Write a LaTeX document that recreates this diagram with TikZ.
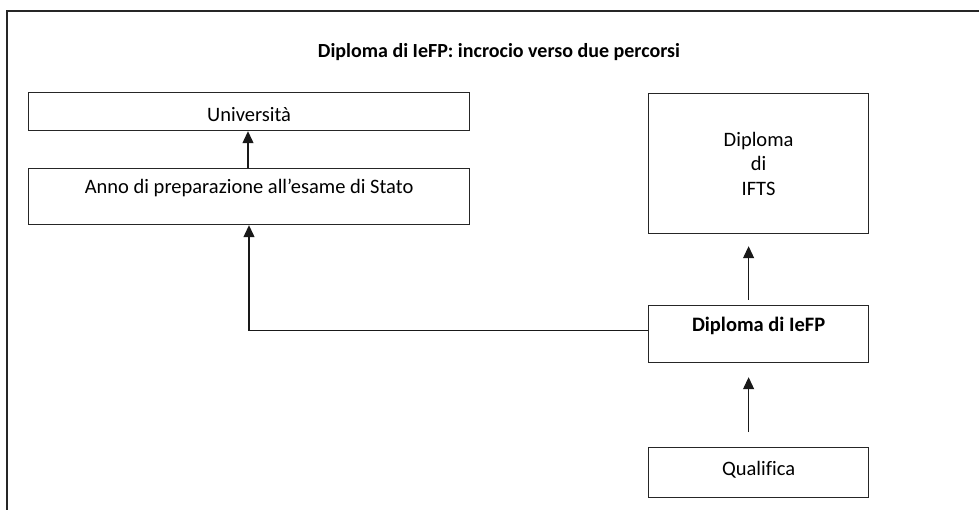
\documentclass[tikz,border=0pt]{standalone}
\usepackage{fontspec}
\setmainfont{Carlito}[Ligatures=NoCommon]
\usetikzlibrary{arrows.meta,calc}
\begin{document}
\begin{tikzpicture}[x=1pt,y=-1pt,
  line width=1.2pt,
  frame/.style={draw=black!85},
  box/.style={draw=black!85, inner sep=0pt, anchor=north west},
  txt/.style={font=\fontsize{20.5}{24}\selectfont, inner sep=0pt},
  arr/.style={draw=black!90, -{Triangle[length=12pt,width=11pt]}}]
  % canvas
  \useasboundingbox[fill=white] (0,0) rectangle (979,510);
  % open frame: top and left edges only
  \coordinate (fr) at (7,11);
  \coordinate (frR) at (979,11);
  \coordinate (frB) at (7,510);
  \draw[frame] (frR) -- (fr) -- (frB);
  % title
  \node[txt, font=\fontsize{20}{24}\selectfont\bfseries] (title) at (499,52) {Diploma di IeFP: incrocio verso due percorsi};
  % left column
  \node[box, minimum width=441pt, minimum height=38pt] (uni) at (28,92) {};
  \node[txt] (unit) at ($(uni.center)+(0,3)$) {Università};
  \node[box, minimum width=441pt, minimum height=56pt] (anno) at (28,168) {};
  \node[txt] (annot) at ($(anno.north)+(0,20)$) {Anno di preparazione all’esame di Stato};
  % right column
  \node[box, minimum width=220pt, minimum height=140pt] (ifts) at (648,93) {};
  \node[txt, align=center, font=\fontsize{20.5}{24.5}\selectfont] (iftst) at ($(ifts.center)+(0,0)$) {Diploma\\di\\IFTS};
  \node[box, minimum width=220pt, minimum height=57pt] (iefp) at (648,305) {};
  \node[txt, font=\fontsize{20.5}{24}\selectfont\bfseries] (iefpt) at ($(iefp.north)+(0,21)$) {Diploma di IeFP};
  \node[box, minimum width=220pt, minimum height=50pt] (qual) at (648,447) {};
  \node[txt] (qualt) at ($(qual.center)+(0,-3)$) {Qualifica};
  % connectors
  \draw[arr] (anno.north -| 248,0) -- (uni.south -| 248,0);
  \draw[arr] ([xshift=-10pt,yshift=5pt]iefp.north) -- ([xshift=-10pt,yshift=-12pt]ifts.south);
  \draw[arr] ([xshift=-10pt,yshift=15pt]qual.north) -- ([xshift=-10pt,yshift=-14pt]iefp.south);
  \draw[arr] ([yshift=4pt]iefp.west) -| (anno.south -| 249,0);
\end{tikzpicture}
\end{document}
